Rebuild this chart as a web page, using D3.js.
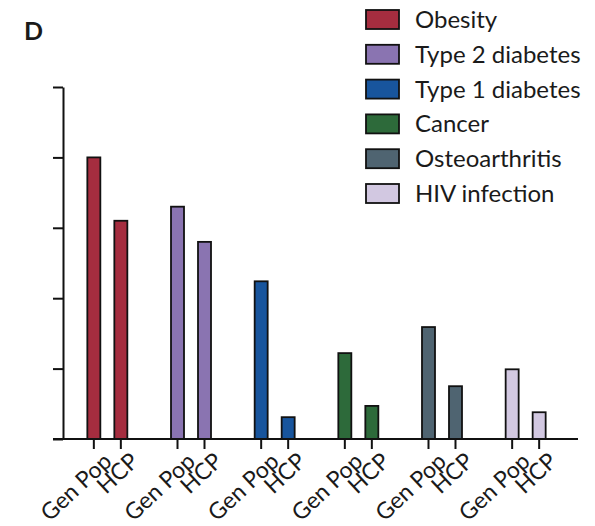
<!DOCTYPE html>
<html>
<head>
<meta charset="utf-8">
<script src="https://cdn.jsdelivr.net/npm/d3@7"></script>
<style>
  body { margin: 0; background: #fff; }
  svg text { font-family: Lato, "Open Sans", sans-serif; fill: #1a1a1a; }
</style>
</head>
<body>
<div id="chart"></div>
<script>
// chart data
var diseases = ["Obesity", "Type 2 diabetes", "Type 1 diabetes", "Cancer", "Osteoarthritis", "HIV infection"]
var populations = ["Gen Pop", "HCP"]
var genPop = [4.0, 3.3, 2.24, 1.22, 1.59, 0.99]
var hcp = [3.1, 2.8, 0.31, 0.47, 0.75, 0.38]
var colors = ["#a52d3f", "#8a74b1", "#18559d", "#2d6a3a", "#4f6471", "#d2c8e1"]
var yTicks = [0, 1, 2, 3, 4, 5]

const width = 595, height = 526
var margin = { top: 87, left: 63, right: 17, bottom: 87 }
const plot_right = width - margin.right,
    plot_bottom = height - margin.bottom

var svg = d3.select('#chart')
    .append('svg')
    .attr('width', width)
    .attr('height', height)

var bars = []
diseases.forEach(function (d, i) {
    bars.push({ disease: d, pop: "Gen Pop", value: genPop[i], color: colors[i] })
    bars.push({ disease: d, pop: "HCP", value: hcp[i], color: colors[i] })
})

var x = d3.scalePoint().domain(diseases).range([margin.left, plot_right - 8]).padding(0.53)
var sub = d3.scaleBand().domain(populations).range([-27, 27])
var y = d3.scaleLinear().domain([0, 5]).range([plot_bottom, margin.top])
const bar_w = 13

function barX(d) { return x(d.disease) + sub(d.pop) + sub.bandwidth() / 2 }

// y axis, ticks without labels
svg.append("g")
    .attr("transform", `translate(${margin.left},0)`)
    .call(d3.axisLeft(y).tickValues(yTicks).tickSize(10).tickSizeOuter(0).tickFormat(""))
    .call(function (g) {
        g.selectAll("line, path").attr("stroke", "#111").attr("stroke-width", 2)
    })

// bars
svg.selectAll(".bar")
    .data(bars)
    .enter().append("rect")
    .attr("class", "bar")
    .attr("x", function (d) { return barX(d) - bar_w / 2 })
    .attr("y", function (d) { return y(d.value) })
    .attr("width", bar_w)
    .attr("height", function (d) { return y(0) - y(d.value) })
    .attr("fill", function (d) { return d.color })
    .attr("stroke", "#111")
    .attr("stroke-width", 1.8)

// x baseline
svg.append("line")
    .attr("x1", margin.left - 10).attr("x2", plot_right)
    .attr("y1", y(0)).attr("y2", y(0))
    .attr("stroke", "#111").attr("stroke-width", 2)

// x ticks and rotated labels
var xt = svg.selectAll(".xtick")
    .data(bars)
    .enter().append("g")
    .attr("class", "xtick")
    .attr("transform", function (d) { return `translate(${barX(d)},${y(0)})` })

xt.append("line")
    .attr("y2", 10)
    .attr("stroke", "#111").attr("stroke-width", 2)

xt.append("text")
    .attr("text-anchor", "end")
    .attr("transform", "translate(8,12) rotate(-43)")
    .attr("dy", "0.72em")
    .style("font-size", "23px")
    .text(function (d) { return d.pop })

// panel letter
svg.append("text")
    .attr("x", 24).attr("y", 40)
    .style("font-size", "25px")
    .style("font-weight", "bold")
    .text("D")

// legend
var legend = svg.selectAll(".legend")
    .data(diseases)
    .enter().append("g")
    .attr("class", "legend")
    .attr("transform", function (d, i) { return `translate(366,${10 + i * 34.8})` })

legend.append("rect")
    .attr("width", 33).attr("height", 19)
    .attr("fill", function (d, i) { return colors[i] })
    .attr("stroke", "#111").attr("stroke-width", 1.8)

legend.append("text")
    .attr("x", 49).attr("y", 9.5)
    .attr("dy", "0.35em")
    .style("font-size", "24px")
    .text(function (d) { return d })
</script>
</body>
</html>
